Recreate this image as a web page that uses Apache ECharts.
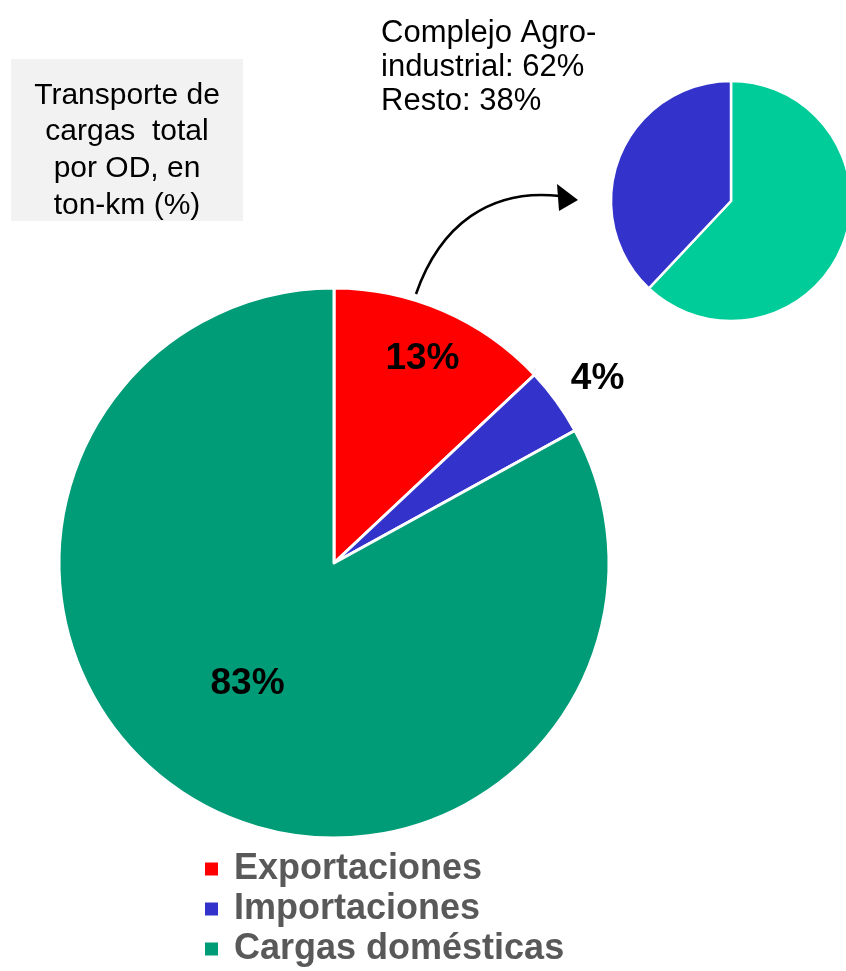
<!DOCTYPE html>
<html>
<head>
<meta charset="utf-8">
<script src="https://cdn.jsdelivr.net/npm/echarts@6/dist/echarts.min.js"></script>
<style>
  html, body { margin: 0; padding: 0; background: #fff; }
  #chart { width: 846px; height: 971px; }
</style>
</head>
<body>
<div id="chart"></div>
<script>
// main pie: share of ton-km by origin/destination
const categories = ["Exportaciones", "Importaciones", "Cargas domésticas"];
const shares = [13, 4, 83];
const colors = ["#FF0000", "#3333CC", "#009B77"];

// breakdown of the export slice
const exportParts = ["Complejo Agro-industrial", "Resto"];
const exportShares = [62, 38];
const exportColors = ["#00CC99", "#3333CC"];

const titleLines = ["Transporte de", "cargas  total", "por OD, en", "ton-km (%)"];
const noteLines = ["Complejo Agro-", "industrial: 62%", "Resto: 38%"];

const FONT = "'Liberation Sans', Arial, sans-serif";
const MAIN_CENTER = [334, 563];
const MAIN_R = 275;
// how far out each label sits, as a fraction of the radius, plus a small angle nudge (deg)
const labelReach = [0.81, 1.17, 0.54];
const labelTurn = [0, 1, 5];

const total = shares.reduce((a, b) => a + b, 0);
const midAngles = [];
let acc = 0;
shares.forEach((v) => {
  midAngles.push(((acc + v / 2) / total) * 2 * Math.PI);
  acc += v;
});

const chart = echarts.init(document.getElementById("chart"), null, { renderer: "canvas" });

chart.setOption({
  animation: false,
  backgroundColor: "#fff",
  legend: {
    orient: "vertical",
    left: 203,
    top: 849,
    padding: 0,
    itemGap: 0,
    itemWidth: 15,
    itemHeight: 15,
    icon: "rect",
    selectedMode: false,
    data: categories,
    textStyle: {
      fontFamily: FONT,
      fontWeight: "bold",
      fontSize: 36,
      lineHeight: 40,
      color: "#595959",
      padding: [0, 0, 0, 10],
    },
  },
  graphic: [
    {
      type: "rect",
      shape: { x: 11, y: 59, width: 232, height: 162 },
      style: { fill: "#F2F2F2" },
      silent: true,
    },
    {
      type: "text",
      x: 127,
      y: 77,
      style: {
        text: titleLines.join("\n"),
        font: "30px " + FONT,
        lineHeight: 36.7,
        fill: "#000",
        align: "center",
        verticalAlign: "top",
      },
      silent: true,
    },
    {
      type: "text",
      x: 381,
      y: 16,
      style: {
        text: noteLines.join("\n"),
        font: "31px " + FONT,
        lineHeight: 34,
        fill: "#000",
        align: "left",
        verticalAlign: "top",
      },
      silent: true,
    },
    {
      type: "bezierCurve",
      shape: { x1: 416, y1: 294, cpx1: 440, cpy1: 225, cpx2: 490, cpy2: 188, x2: 560, y2: 196 },
      style: { stroke: "#000", lineWidth: 2.5, fill: null },
      silent: true,
    },
    {
      type: "polygon",
      shape: { points: [[578, 200], [557, 184], [559, 211]] },
      style: { fill: "#000" },
      silent: true,
    },
  ],
  series: [
    {
      name: "Transporte de cargas",
      type: "pie",
      center: MAIN_CENTER,
      radius: MAIN_R,
      startAngle: 90,
      clockwise: true,
      silent: true,
      itemStyle: { borderColor: "#fff", borderWidth: 3 },
      label: {
        show: true,
        position: "inside",
        formatter: "{d}%",
        fontFamily: FONT,
        fontWeight: "bold",
        fontSize: 37,
        color: "#000",
      },
      labelLine: { show: false },
      labelLayout: (params) => {
        const i = params.dataIndex;
        const d = labelReach[i] * MAIN_R;
        const a = midAngles[i] + (labelTurn[i] * Math.PI) / 180;
        return {
          x: MAIN_CENTER[0] + d * Math.sin(a),
          y: MAIN_CENTER[1] - d * Math.cos(a),
          align: "center",
          verticalAlign: "middle",
        };
      },
      data: categories.map((name, i) => ({
        name,
        value: shares[i],
        itemStyle: { color: colors[i] },
      })),
    },
    {
      name: "Exportaciones detalle",
      type: "pie",
      center: [731, 201],
      radius: 120,
      startAngle: 90,
      clockwise: true,
      silent: true,
      itemStyle: { borderColor: "#fff", borderWidth: 2.5 },
      label: { show: false },
      labelLine: { show: false },
      data: exportParts.map((name, i) => ({
        name,
        value: exportShares[i],
        itemStyle: { color: exportColors[i] },
      })),
    },
  ],
});
</script>
</body>
</html>
